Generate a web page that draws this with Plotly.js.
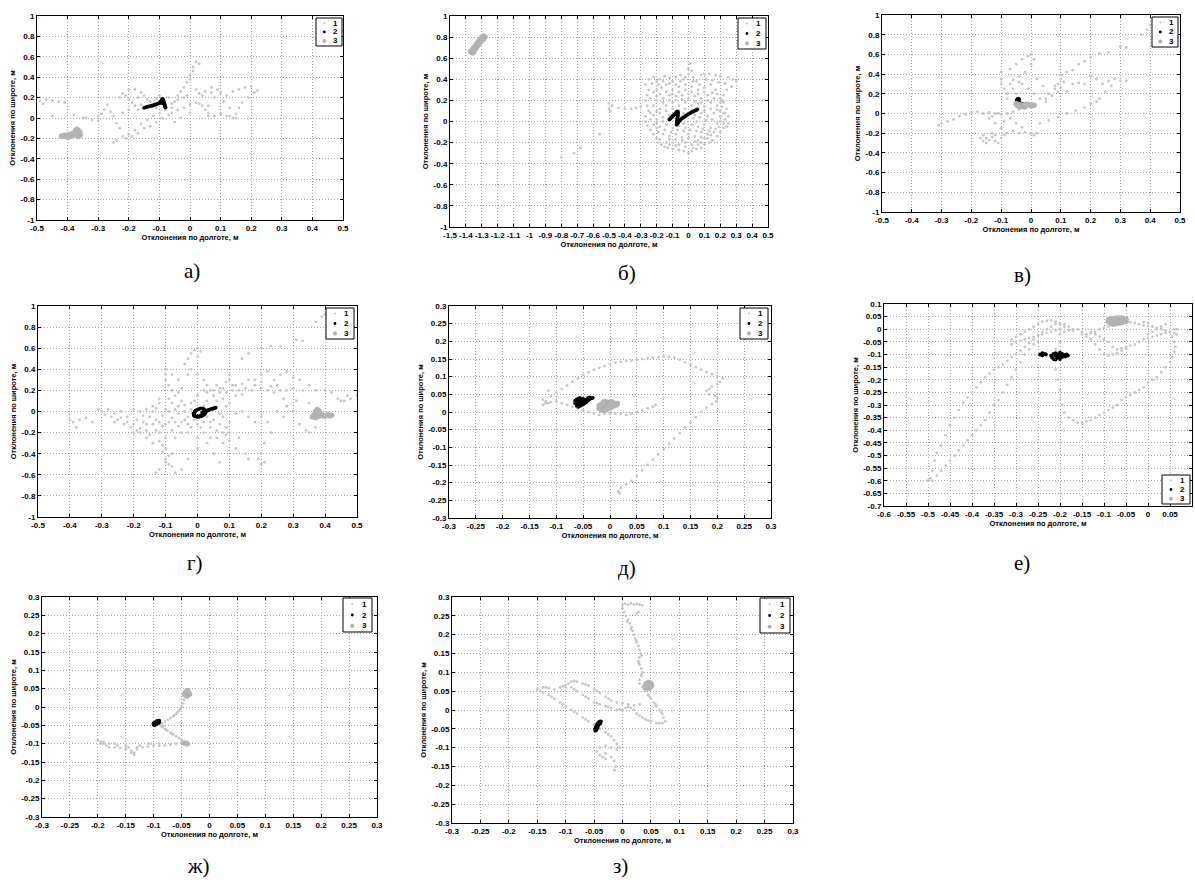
<!DOCTYPE html>
<html><head><meta charset="utf-8">
<script src="https://cdn.plot.ly/plotly-3.0.1.min.js"></script>
<style>html,body{margin:0;padding:0;background:#fff;}#chart{width:1195px;height:882px;}</style>
</head><body><div id="chart"></div>
<script>
// ---------- tick labels ----------
const TICK_05 = ['-0.5','-0.4','-0.3','-0.2','-0.1','0','0.1','0.2','0.3','0.4','0.5'];
const TICK_Y1 = ['-1','-0.8','-0.6','-0.4','-0.2','0','0.2','0.4','0.6','0.8','1'];
const TICK_15 = ['-1.5','-1.4','-1.3','-1.2','-1.1','-1','-0.9','-0.8','-0.7','-0.6','-0.5','-0.4','-0.3','-0.2','-0.1','0','0.1','0.2','0.3','0.4','0.5'];
const TICK_03 = ['-0.3','-0.25','-0.2','-0.15','-0.1','-0.05','0','0.05','0.1','0.15','0.2','0.25','0.3'];
const TICK_EX = ['-0.6','-0.55','-0.5','-0.45','-0.4','-0.35','-0.3','-0.25','-0.2','-0.15','-0.1','-0.05','0','0.05','0.1'];
const TICK_EY = ['-0.7','-0.65','-0.6','-0.55','-0.5','-0.45','-0.4','-0.35','-0.3','-0.25','-0.2','-0.15','-0.1','-0.05','0','0.05','0.1'];
const CAPTIONS = ['а)','б)','в)','г)','д)','е)','ж)','з)'];
const SERIES = ['1','2','3'];
const X_TITLE = 'Отклонения по долготе, м';
const Y_TITLE = 'Отклонения по широте, м';

// ---------- а ----------
const A1 = [[-0.49,0.17],[-0.47,0.18],[-0.45,0.17],[-0.43,0.16],[-0.41,0.15],[-0.48,0.14],[-0.45,0.02],[-0.38,0.03],[-0.34,0.0],[-0.32,-0.02],[-0.3,0.02],[-0.29,0.04],[-0.28,0.08],[-0.27,0.13],[-0.26,0.06],[-0.25,0.02],[-0.24,-0.05],[-0.23,-0.1],[-0.22,0.24],[-0.21,0.22],[-0.2,0.18],[-0.19,0.15],[-0.18,0.12],[-0.2,0.28],[-0.18,0.28],[-0.17,0.2],[-0.16,0.25],[-0.15,0.22],[-0.14,0.18],[-0.13,0.16],[-0.12,0.12],[-0.11,0.1],[-0.1,0.05],[-0.12,0.02],[-0.14,-0.02],[-0.16,-0.06],[-0.18,-0.12],[-0.2,-0.16],[-0.22,-0.18],[-0.24,-0.22],[-0.25,-0.24],[-0.21,-0.2],[-0.19,-0.18],[-0.17,-0.15],[-0.15,-0.1],[-0.13,-0.08],[-0.11,-0.04],[-0.09,0.0],[-0.07,0.03],[-0.06,0.1],[-0.05,0.16],[-0.04,0.22],[-0.03,0.26],[-0.02,0.3],[-0.01,0.35],[0.0,0.42],[0.01,0.5],[0.02,0.55],[0.03,0.53],[0.01,0.46],[0.0,0.38],[0.02,0.28],[0.03,0.24],[0.05,0.26],[0.07,0.3],[0.09,0.28],[0.1,0.25],[0.12,0.22],[0.14,0.26],[0.16,0.28],[0.18,0.3],[0.2,0.31],[0.22,0.27],[0.21,0.25],[0.19,0.2],[0.17,0.15],[0.16,0.1],[0.15,0.04],[0.14,0.0],[0.12,0.02],[0.1,0.04],[0.08,0.02],[0.06,0.05],[0.05,0.08],[0.04,0.12],[0.02,0.15],[0.0,0.13],[-0.02,0.1],[-0.04,0.08],[-0.06,0.05],[-0.08,0.12],[-0.09,0.18],[-0.1,0.22],[-0.11,0.19],[-0.06,0.14],[-0.02,0.2],[0.03,0.14],[0.06,0.12],[0.08,0.2],[0.11,0.16],[0.13,0.1],[0.06,0.02],[0.0,0.05],[-0.03,0.0],[-0.05,-0.04],[-0.08,0.08],[-0.35,0.0],[-0.3,-0.03],[-0.22,0.05],[-0.2,0.08],[-0.16,0.13],[-0.14,0.1],[-0.07,0.2],[-0.04,0.18],[-0.01,0.22],[0.04,0.22],[0.07,0.25],[0.15,0.0],[0.13,0.02],[-0.17,0.08],[-0.23,0.2]];
const A2 = [[-0.15,0.1],[-0.145,0.105],[-0.14,0.11],[-0.135,0.113],[-0.13,0.117],[-0.125,0.12],[-0.12,0.125],[-0.115,0.13],[-0.11,0.135],[-0.105,0.14],[-0.1,0.148],[-0.097,0.158],[-0.094,0.168],[-0.092,0.178],[-0.09,0.188],[-0.088,0.18],[-0.087,0.17],[-0.086,0.16],[-0.085,0.15],[-0.084,0.14],[-0.083,0.13],[-0.082,0.12],[-0.081,0.11],[-0.08,0.105],[-0.095,0.15],[-0.09,0.145]];
const A3 = [[-0.42,-0.18],[-0.415,-0.175],[-0.41,-0.17],[-0.405,-0.172],[-0.4,-0.17],[-0.395,-0.165],[-0.39,-0.16],[-0.385,-0.155],[-0.38,-0.15],[-0.375,-0.13],[-0.372,-0.12],[-0.37,-0.11],[-0.365,-0.12],[-0.36,-0.14],[-0.36,-0.16],[-0.36,-0.17],[-0.365,-0.18],[-0.37,-0.17],[-0.38,-0.17],[-0.39,-0.18],[-0.41,-0.18],[-0.4,-0.19],[-0.375,-0.16]];

// ---------- б ----------
const B1 = [[-0.25,0.4],[-0.22,0.42],[-0.2,0.38],[-0.18,0.4],[-0.15,0.43],[-0.12,0.41],[-0.1,0.38],[-0.08,0.42],[-0.05,0.44],[-0.03,0.4],[0.0,0.45],[0.0,0.5],[0.01,0.55],[0.02,0.48],[0.03,0.42],[0.05,0.38],[0.08,0.44],[0.1,0.45],[0.13,0.45],[0.17,0.44],[0.2,0.43],[0.25,0.42],[0.28,0.4],[0.3,0.38],[0.27,0.33],[0.24,0.3],[0.22,0.25],[0.2,0.22],[0.22,0.18],[0.24,0.12],[0.22,0.08],[0.2,0.05],[0.23,0.02],[0.25,-0.02],[0.22,-0.06],[0.2,-0.1],[0.18,-0.14],[0.15,-0.18],[0.13,-0.2],[0.1,-0.22],[0.08,-0.25],[0.05,-0.26],[0.02,-0.28],[0.0,-0.3],[-0.03,-0.28],[-0.06,-0.27],[-0.1,-0.26],[-0.13,-0.25],[-0.15,-0.24],[-0.17,-0.22],[-0.19,-0.2],[-0.2,-0.16],[-0.22,-0.12],[-0.24,-0.08],[-0.26,-0.04],[-0.27,0.0],[-0.27,0.05],[-0.25,0.1],[-0.26,0.15],[-0.27,0.2],[-0.26,0.25],[-0.25,0.3],[-0.27,0.35],[-0.2,0.3],[-0.17,0.32],[-0.14,0.35],[-0.1,0.3],[-0.06,0.33],[-0.02,0.35],[0.02,0.33],[0.06,0.3],[0.1,0.32],[0.14,0.35],[0.17,0.3],[0.12,0.25],[0.08,0.22],[0.04,0.24],[0.0,0.26],[-0.04,0.25],[-0.08,0.24],[-0.12,0.25],[-0.16,0.22],[-0.2,0.2],[-0.22,0.15],[-0.18,0.12],[-0.14,0.15],[-0.1,0.18],[-0.06,0.15],[-0.02,0.18],[0.02,0.15],[0.06,0.17],[0.1,0.14],[0.14,0.18],[0.18,0.15],[0.16,0.08],[0.12,0.05],[0.08,0.08],[0.04,0.06],[0.0,0.08],[-0.04,0.05],[-0.08,0.08],[-0.12,0.06],[-0.16,0.04],[-0.2,0.02],[-0.22,-0.03],[-0.18,-0.05],[-0.14,-0.03],[-0.1,-0.06],[-0.06,-0.04],[-0.02,-0.06],[0.02,-0.03],[0.06,-0.05],[0.1,-0.03],[0.14,-0.06],[0.18,-0.02],[0.16,-0.1],[0.12,-0.12],[0.08,-0.1],[0.04,-0.14],[0.0,-0.12],[-0.04,-0.15],[-0.08,-0.12],[-0.12,-0.14],[-0.16,-0.12],[-0.14,-0.2],[-0.1,-0.2],[-0.06,-0.22],[-0.02,-0.2],[0.02,-0.22],[0.06,-0.18],[0.1,-0.16],[-0.24,0.08],[-0.2,0.1],[0.2,0.1],[0.21,0.2],[0.19,-0.05],[-0.05,0.02],[-0.03,-0.02],[0.05,0.0],[0.08,-0.15],[-0.23,0.36],[-0.19,0.35],[-0.16,0.38],[-0.12,0.36],[-0.08,0.35],[-0.05,0.38],[-0.02,0.42],[0.03,0.38],[0.07,0.35],[0.11,0.4],[0.15,0.39],[0.19,0.37],[0.23,0.36],[0.18,0.26],[0.15,0.27],[0.1,0.28],[0.06,0.26],[0.02,0.28],[-0.02,0.3],[-0.06,0.28],[-0.1,0.26],[-0.14,0.28],[-0.18,0.26],[-0.22,0.28],[-0.24,0.22],[-0.2,0.24],[-0.16,0.18],[-0.12,0.2],[-0.08,0.2],[-0.04,0.21],[0.0,0.22],[0.04,0.19],[0.08,0.18],[0.12,0.2],[0.16,0.22],[0.2,0.18],[0.18,0.11],[0.14,0.12],[0.1,0.1],[0.06,0.12],[0.02,0.1],[-0.02,0.12],[-0.06,0.1],[-0.1,0.12],[-0.14,0.1],[-0.18,0.08],[-0.22,0.06],[-0.24,0.02],[-0.2,-0.01],[-0.16,0.0],[-0.12,0.02],[-0.08,0.03],[-0.03,0.08],[0.03,0.03],[0.07,0.04],[0.11,0.01],[0.15,0.02],[0.2,0.0],[0.22,-0.02],[0.17,-0.07],[0.13,-0.09],[0.09,-0.07],[0.05,-0.09],[0.01,-0.08],[-0.03,-0.09],[-0.07,-0.08],[-0.11,-0.1],[-0.15,-0.08],[-0.19,-0.1],[-0.2,-0.06],[-0.18,-0.17],[-0.12,-0.17],[-0.08,-0.17],[-0.04,-0.18],[0.0,-0.16],[0.04,-0.19],[0.08,-0.2],[0.12,-0.16],[0.14,-0.13],[-0.02,-0.24],[0.03,-0.25],[-0.08,-0.23],[-0.12,-0.22],[0.06,-0.22],[0.23,0.08],[0.25,0.05],[0.24,-0.05],[0.21,0.14],[-0.3,0.14],[-0.33,0.13],[-0.36,0.12],[-0.4,0.12],[-0.44,0.13],[-0.48,0.15],[-0.5,0.17],[-0.5,0.12],[-0.49,0.1],[-0.56,-0.12],[-0.68,-0.25],[-0.72,-0.3],[-0.8,-0.34]];
const B2 = [[-0.12,0.02],[-0.115,0.027],[-0.11,0.035],[-0.105,0.042],[-0.1,0.05],[-0.095,0.057],[-0.09,0.065],[-0.085,0.072],[-0.08,0.08],[-0.075,0.088],[-0.07,0.095],[-0.066,0.088],[-0.066,0.075],[-0.067,0.06],[-0.068,0.045],[-0.07,0.03],[-0.071,0.015],[-0.072,0.0],[-0.074,-0.015],[-0.075,-0.03],[-0.07,-0.02],[-0.065,-0.01],[-0.06,0.0],[-0.055,0.01],[-0.05,0.02],[-0.04,0.03],[-0.03,0.04],[-0.02,0.05],[-0.01,0.06],[0.0,0.07],[0.01,0.08],[0.02,0.088],[0.03,0.095],[0.04,0.103],[0.05,0.11],[0.055,0.115]];
const B3 = [[-1.37,0.66],[-1.36,0.68],[-1.35,0.7],[-1.34,0.72],[-1.33,0.74],[-1.32,0.76],[-1.31,0.78],[-1.3,0.8],[-1.29,0.81],[-1.28,0.8],[-1.36,0.65],[-1.35,0.66],[-1.34,0.69],[-1.33,0.71],[-1.32,0.73],[-1.31,0.75],[-1.3,0.77],[-1.29,0.78]];

// ---------- в ----------
const V1 = [[-0.31,-0.12],[-0.3,-0.1],[-0.28,-0.08],[-0.26,-0.06],[-0.24,-0.03],[-0.22,-0.01],[-0.2,0.01],[-0.18,0.02],[-0.16,0.0],[-0.14,0.01],[-0.12,0.0],[-0.1,-0.01],[-0.08,0.0],[-0.06,0.02],[-0.04,0.04],[-0.02,0.06],[-0.17,-0.25],[-0.16,-0.28],[-0.15,-0.3],[-0.14,-0.27],[-0.13,-0.24],[-0.12,-0.28],[-0.11,-0.3],[-0.1,-0.25],[-0.09,-0.22],[-0.08,-0.2],[-0.06,-0.18],[-0.04,-0.2],[-0.02,-0.19],[0.0,-0.2],[0.01,-0.22],[0.02,-0.2],[-0.16,-0.22],[-0.13,-0.2],[-0.1,-0.15],[-0.12,-0.1],[-0.14,-0.05],[-0.09,-0.08],[-0.07,-0.05],[-0.05,-0.1],[-0.03,-0.14],[-0.1,0.42],[-0.1,0.35],[-0.1,0.3],[-0.09,0.25],[-0.08,0.2],[-0.07,0.45],[-0.05,0.5],[-0.03,0.55],[-0.01,0.58],[0.0,0.6],[0.01,0.55],[0.0,0.5],[-0.02,0.42],[-0.04,0.38],[-0.06,0.34],[-0.03,0.3],[-0.01,0.25],[0.01,0.2],[0.03,0.15],[0.05,0.12],[0.02,0.35],[-0.06,0.25],[-0.08,0.15],[0.04,0.28],[0.06,0.2],[0.08,0.25],[0.09,0.3],[0.1,0.35],[0.11,0.32],[0.1,0.26],[0.12,0.22],[0.14,0.3],[0.16,0.31],[0.18,0.3],[0.2,0.38],[0.22,0.35],[0.24,0.3],[0.26,0.33],[0.28,0.35],[0.3,0.33],[0.32,0.33],[0.27,0.28],[0.25,0.22],[0.23,0.15],[0.22,0.12],[0.2,0.1],[0.18,0.06],[0.15,0.03],[0.12,0.0],[0.09,-0.04],[0.06,-0.07],[0.03,-0.1],[0.14,0.44],[0.16,0.5],[0.18,0.53],[0.2,0.57],[0.23,0.61],[0.26,0.62],[0.3,0.68],[0.32,0.67],[0.37,0.8],[0.39,0.85],[0.4,0.9],[0.41,0.88],[0.1,0.39],[0.12,0.42],[0.07,0.18],[0.05,0.15],[-0.07,0.3],[-0.04,0.32],[-0.05,0.2],[-0.11,0.0],[-0.13,-0.03],[-0.15,-0.25],[-0.12,-0.22],[0.08,0.28],[0.09,0.22]];
const V2 = [[-0.046,0.12],[-0.047,0.13],[-0.047,0.14],[-0.045,0.148],[-0.042,0.15],[-0.04,0.145],[-0.042,0.135],[-0.043,0.127],[-0.042,0.118],[-0.04,0.11],[-0.037,0.104],[-0.033,0.1],[-0.03,0.1]];
const V3 = [[-0.05,0.1],[-0.045,0.08],[-0.04,0.07],[-0.03,0.07],[-0.02,0.08],[-0.01,0.09],[0.0,0.09],[0.01,0.085],[0.0,0.075],[-0.02,0.065],[-0.035,0.09],[-0.015,0.095],[0.005,0.08],[-0.025,0.085],[-0.045,0.095]];

// ---------- г ----------
const G1 = [[-0.4,-0.08],[-0.39,-0.1],[-0.38,-0.15],[-0.37,-0.08],[-0.35,-0.06],[-0.33,-0.1],[-0.31,0.02],[-0.3,0.0],[-0.29,-0.03],[-0.28,0.02],[-0.27,-0.05],[-0.26,-0.02],[-0.25,-0.08],[-0.24,0.0],[-0.23,-0.12],[-0.22,-0.05],[-0.21,-0.15],[-0.2,0.02],[-0.19,-0.18],[-0.18,-0.2],[-0.17,-0.1],[-0.16,-0.25],[-0.15,-0.22],[-0.14,-0.3],[-0.13,-0.18],[-0.12,-0.28],[-0.11,-0.32],[-0.1,-0.45],[-0.09,-0.5],[-0.1,-0.48],[-0.08,-0.4],[-0.13,-0.58],[-0.12,-0.55],[-0.07,-0.58],[-0.05,-0.55],[-0.08,-0.52],[-0.2,-0.2],[-0.18,-0.16],[-0.16,-0.12],[-0.15,-0.05],[-0.14,0.0],[-0.13,-0.08],[-0.12,-0.1],[-0.11,-0.04],[-0.1,-0.12],[-0.09,0.0],[-0.08,-0.06],[-0.07,0.02],[-0.06,-0.02],[-0.05,-0.1],[-0.04,0.0],[-0.03,-0.05],[-0.02,0.02],[-0.01,-0.08],[0.0,-0.12],[0.01,-0.02],[0.02,-0.1],[0.03,-0.05],[0.04,-0.15],[0.05,-0.08],[0.06,-0.18],[0.07,-0.12],[0.08,-0.2],[0.09,-0.15],[0.1,-0.2],[-0.1,0.4],[-0.1,0.35],[-0.1,0.3],[-0.09,0.25],[-0.08,0.2],[-0.07,0.15],[-0.06,0.18],[-0.05,0.22],[-0.04,0.45],[-0.03,0.5],[-0.02,0.55],[-0.01,0.58],[0.0,0.6],[0.01,0.57],[0.0,0.52],[-0.02,0.4],[0.0,0.35],[0.02,0.3],[0.03,0.25],[0.04,0.2],[0.05,0.15],[0.06,0.1],[0.07,0.18],[0.08,0.22],[0.09,0.28],[0.1,0.35],[0.1,0.3],[0.11,0.2],[0.12,0.25],[0.13,0.2],[0.15,0.22],[0.16,0.3],[0.18,0.3],[0.2,0.35],[0.22,0.38],[0.24,0.3],[0.25,0.25],[0.26,0.35],[0.28,0.38],[0.3,0.32],[0.32,0.3],[0.2,0.22],[0.22,0.2],[0.24,0.18],[0.26,0.2],[0.28,0.2],[0.3,0.22],[0.33,0.2],[0.35,0.25],[0.37,0.2],[0.4,0.2],[0.42,0.18],[0.44,0.12],[0.46,0.1],[0.48,0.12],[0.5,0.15],[0.47,0.15],[0.45,0.1],[0.14,0.5],[0.16,0.55],[0.2,0.6],[0.23,0.62],[0.26,0.62],[0.31,0.68],[0.33,0.67],[0.37,0.85],[0.39,0.9],[0.4,0.92],[0.12,-0.02],[0.14,0.0],[0.16,-0.05],[0.18,-0.1],[0.2,-0.05],[0.22,-0.1],[0.23,-0.2],[0.21,-0.3],[0.2,-0.4],[0.19,-0.45],[0.2,-0.5],[0.21,-0.48],[0.15,-0.4],[0.16,-0.45],[0.12,-0.35],[0.25,0.0],[0.27,-0.05],[0.28,0.05],[0.3,0.0],[0.32,-0.12],[0.34,-0.18],[0.35,-0.2],[0.37,-0.15],[0.31,0.1],[0.35,0.08],[0.27,0.12],[-0.05,0.1],[0.03,0.1],[0.05,0.02],[0.07,-0.02],[0.09,0.05],[-0.08,0.08],[-0.12,0.12],[0.02,0.05],[0.1,0.08],[0.08,0.12],[-0.03,-0.2],[0.0,-0.25],[0.03,-0.3],[0.05,-0.4],[0.07,-0.48],[0.0,-0.35],[-0.03,-0.45],[-0.19,-0.08],[-0.17,-0.04],[-0.16,0.02],[-0.14,-0.12],[-0.13,0.03],[-0.12,-0.2],[-0.11,-0.14],[-0.1,0.02],[-0.1,-0.25],[-0.09,-0.1],[-0.08,-0.18],[-0.07,-0.1],[-0.07,-0.25],[-0.06,0.05],[-0.06,-0.14],[-0.05,-0.2],[-0.04,-0.08],[-0.04,0.06],[-0.03,-0.12],[-0.02,-0.15],[-0.02,0.08],[-0.01,0.1],[0.0,0.15],[0.01,-0.15],[0.02,-0.2],[0.03,0.18],[0.04,-0.1],[0.05,0.2],[0.06,-0.25],[0.07,0.22],[0.08,-0.05],[0.09,0.18],[0.1,-0.1],[0.11,0.25],[0.12,0.15],[-0.22,-0.1],[-0.24,-0.06],[-0.26,-0.1],[-0.18,0.0],[-0.2,-0.12],[-0.16,-0.18],[-0.14,0.05],[-0.12,0.08],[-0.09,0.12],[-0.06,0.3],[-0.08,0.35],[-0.03,0.35],[0.02,0.2],[0.06,0.25],[0.14,0.26],[0.18,0.25],[0.2,0.28],[0.23,0.24],[0.17,0.2],[0.14,0.16],[-0.1,-0.35],[-0.09,-0.42],[-0.11,-0.38],[0.04,-0.25],[0.08,-0.3],[0.1,-0.28],[0.13,-0.25],[0.09,-0.22]];
const G2 = [[-0.012,-0.03],[-0.012,-0.02],[-0.01,-0.01],[-0.008,0.0],[-0.005,0.01],[0.0,0.018],[0.005,0.025],[0.01,0.03],[0.015,0.028],[0.02,0.022],[0.024,0.012],[0.026,0.0],[0.025,-0.012],[0.022,-0.025],[0.018,-0.035],[0.012,-0.045],[0.005,-0.05],[-0.002,-0.05],[-0.008,-0.045],[-0.011,-0.038],[0.015,-0.01],[0.02,-0.005],[0.028,0.005],[0.033,0.012],[0.038,0.018],[0.043,0.024],[0.048,0.028],[0.053,0.033],[0.057,0.036],[0.0,-0.045],[0.01,-0.04]];
const G3 = [[0.36,-0.05],[0.365,-0.03],[0.37,0.0],[0.375,0.02],[0.38,0.01],[0.385,-0.02],[0.39,-0.03],[0.4,-0.035],[0.41,-0.03],[0.42,-0.035],[0.4,-0.045],[0.38,-0.045],[0.37,-0.06],[0.375,-0.01],[0.395,-0.04],[0.415,-0.04]];

// ---------- д ----------
const D1 = [[-0.12,0.03],[-0.11,0.045],[-0.1,0.055],[-0.09,0.065],[-0.08,0.075],[-0.07,0.085],[-0.06,0.095],[-0.05,0.105],[-0.04,0.112],[-0.03,0.12],[-0.02,0.125],[-0.01,0.13],[0.0,0.135],[0.01,0.14],[0.02,0.142],[0.03,0.145],[0.04,0.145],[0.05,0.148],[0.06,0.15],[0.07,0.152],[0.08,0.154],[0.09,0.155],[0.1,0.157],[0.11,0.156],[0.12,0.153],[0.13,0.148],[0.14,0.14],[0.15,0.133],[0.16,0.127],[0.17,0.12],[0.18,0.113],[0.19,0.107],[0.2,0.1],[0.21,0.095],[0.205,0.085],[0.2,0.078],[0.19,0.072],[0.185,0.065],[0.18,0.06],[0.185,0.05],[0.195,0.045],[0.2,0.04],[0.198,0.03],[0.19,0.022],[0.18,0.012],[0.17,0.0],[0.16,-0.015],[0.15,-0.03],[0.14,-0.045],[0.13,-0.06],[0.12,-0.075],[0.11,-0.09],[0.1,-0.105],[0.09,-0.12],[0.08,-0.135],[0.07,-0.15],[0.06,-0.165],[0.05,-0.18],[0.04,-0.195],[0.03,-0.205],[0.02,-0.215],[0.018,-0.23],[0.015,-0.225],[-0.12,0.025],[-0.11,0.028],[-0.1,0.03],[-0.09,0.025],[-0.08,0.02],[-0.07,0.015],[-0.06,0.01],[-0.05,0.005],[-0.04,0.0],[-0.03,-0.005],[-0.02,-0.008],[-0.01,-0.005],[0.0,-0.003],[0.01,-0.005],[0.02,-0.005],[0.03,-0.008],[0.04,-0.005],[0.05,0.0],[0.06,0.005],[0.07,0.01],[0.08,0.015],[0.085,0.02],[-0.125,0.02],[-0.125,0.035],[-0.115,0.025],[-0.115,0.06]];
const D2 = [[-0.065,0.025],[-0.065,0.032],[-0.062,0.018],[-0.062,0.028],[-0.062,0.036],[-0.059,0.015],[-0.059,0.022],[-0.059,0.03],[-0.059,0.038],[-0.056,0.017],[-0.056,0.025],[-0.056,0.033],[-0.056,0.04],[-0.053,0.02],[-0.053,0.028],[-0.053,0.036],[-0.05,0.022],[-0.05,0.03],[-0.05,0.037],[-0.047,0.025],[-0.047,0.033],[-0.044,0.028],[-0.044,0.036],[-0.041,0.032],[-0.041,0.039],[-0.038,0.036],[-0.038,0.041],[-0.035,0.039],[-0.032,0.04]];
const D3 = [[-0.02,0.01],[-0.02,0.018],[-0.016,0.006],[-0.016,0.014],[-0.016,0.022],[-0.012,0.004],[-0.012,0.012],[-0.012,0.02],[-0.012,0.028],[-0.008,0.006],[-0.008,0.014],[-0.008,0.022],[-0.008,0.03],[-0.004,0.01],[-0.004,0.018],[-0.004,0.026],[0.0,0.012],[0.0,0.02],[0.0,0.028],[0.004,0.014],[0.004,0.022],[0.004,0.028],[0.008,0.018],[0.008,0.025],[0.012,0.02],[0.014,0.024]];

// ---------- е ----------
const E1 = [[-0.5,-0.6],[-0.495,-0.59],[-0.49,-0.56],[-0.485,-0.52],[-0.48,-0.49],[-0.47,-0.46],[-0.46,-0.42],[-0.45,-0.38],[-0.44,-0.35],[-0.43,-0.32],[-0.42,-0.29],[-0.41,-0.27],[-0.4,-0.25],[-0.39,-0.23],[-0.38,-0.21],[-0.37,-0.19],[-0.36,-0.175],[-0.35,-0.16],[-0.34,-0.15],[-0.33,-0.14],[-0.32,-0.125],[-0.31,-0.11],[-0.3,-0.1],[-0.29,-0.085],[-0.28,-0.07],[-0.27,-0.055],[-0.26,-0.04],[-0.25,-0.025],[-0.24,-0.01],[-0.23,0.0],[-0.22,0.01],[-0.21,0.02],[-0.2,0.025],[-0.19,0.02],[-0.18,0.01],[-0.17,0.0],[-0.49,-0.6],[-0.48,-0.58],[-0.47,-0.56],[-0.46,-0.54],[-0.45,-0.52],[-0.44,-0.5],[-0.43,-0.48],[-0.42,-0.46],[-0.41,-0.44],[-0.4,-0.42],[-0.39,-0.4],[-0.38,-0.38],[-0.37,-0.36],[-0.36,-0.33],[-0.35,-0.3],[-0.34,-0.28],[-0.33,-0.25],[-0.32,-0.22],[-0.31,-0.19],[-0.3,-0.16],[-0.29,-0.13],[-0.28,-0.1],[-0.27,-0.08],[-0.26,-0.06],[-0.25,-0.05],[-0.31,-0.06],[-0.3,-0.05],[-0.29,-0.045],[-0.28,-0.04],[-0.27,-0.035],[-0.26,-0.03],[-0.25,-0.025],[-0.24,-0.02],[-0.23,-0.015],[-0.22,-0.01],[-0.21,-0.005],[-0.2,0.0],[-0.31,-0.04],[-0.3,-0.03],[-0.29,-0.02],[-0.28,-0.01],[-0.27,0.0],[-0.26,0.01],[-0.25,0.02],[-0.24,0.03],[-0.23,0.033],[-0.22,0.035],[-0.21,0.03],[-0.2,0.02],[-0.19,0.01],[-0.19,-0.01],[-0.18,-0.005],[-0.17,-0.005],[-0.16,0.0],[-0.15,-0.01],[-0.14,-0.02],[-0.13,-0.015],[-0.12,-0.01],[-0.11,0.0],[-0.1,0.005],[-0.09,0.01],[-0.08,0.02],[-0.07,0.025],[-0.06,0.028],[-0.05,0.03],[-0.04,0.028],[-0.03,0.025],[-0.02,0.02],[-0.01,0.015],[0.0,0.012],[0.01,0.01],[0.02,0.005],[0.03,0.0],[0.04,-0.005],[0.05,-0.01],[0.06,-0.015],[0.065,-0.02],[0.06,0.0],[0.065,0.0],[-0.2,-0.02],[-0.2,-0.05],[-0.21,-0.08],[-0.215,-0.12],[-0.21,-0.16],[-0.205,-0.2],[-0.2,-0.24],[-0.2,-0.28],[-0.195,-0.3],[-0.19,-0.33],[-0.18,-0.35],[-0.17,-0.36],[-0.16,-0.37],[-0.15,-0.37],[-0.14,-0.365],[-0.13,-0.36],[-0.12,-0.35],[-0.11,-0.34],[-0.1,-0.33],[-0.09,-0.32],[-0.08,-0.31],[-0.07,-0.3],[-0.06,-0.28],[-0.05,-0.27],[-0.04,-0.26],[-0.03,-0.25],[-0.02,-0.24],[-0.01,-0.23],[0.0,-0.21],[0.01,-0.2],[0.02,-0.19],[0.03,-0.17],[0.04,-0.15],[0.05,-0.13],[0.055,-0.11],[0.06,-0.09],[0.062,-0.07],[0.06,-0.05],[0.055,-0.03],[-0.13,-0.01],[-0.12,-0.02],[-0.11,-0.03],[-0.1,-0.04],[-0.09,-0.05],[-0.08,-0.07],[-0.07,-0.08],[-0.06,-0.075],[-0.05,-0.07],[-0.04,-0.065],[-0.03,-0.06],[-0.02,-0.05],[-0.01,-0.04],[0.0,-0.035],[0.01,-0.03],[0.02,-0.025],[0.03,-0.02],[0.04,-0.015],[-0.15,-0.02],[-0.14,-0.03],[-0.13,-0.04],[-0.12,-0.06],[-0.11,-0.08],[-0.1,-0.1],[-0.09,-0.105],[-0.08,-0.1],[-0.07,-0.095],[-0.06,-0.085],[-0.05,-0.075],[0.0,-0.02],[0.01,-0.01],[0.02,0.0],[0.03,0.01],[0.04,0.02],[0.0,0.025],[-0.01,0.028]];
const E2 = [[-0.245,-0.1],[-0.24,-0.095],[-0.24,-0.103],[-0.235,-0.098],[-0.232,-0.1],[-0.22,-0.105],[-0.218,-0.112],[-0.215,-0.098],[-0.214,-0.118],[-0.21,-0.105],[-0.21,-0.095],[-0.21,-0.12],[-0.205,-0.1],[-0.205,-0.112],[-0.2,-0.092],[-0.2,-0.105],[-0.2,-0.118],[-0.195,-0.098],[-0.195,-0.11],[-0.19,-0.102],[-0.188,-0.108],[-0.185,-0.1],[-0.182,-0.104]];
const E3 = [[-0.09,0.03],[-0.09,0.038],[-0.085,0.024],[-0.085,0.033],[-0.085,0.042],[-0.08,0.02],[-0.08,0.03],[-0.08,0.04],[-0.075,0.022],[-0.075,0.032],[-0.075,0.043],[-0.07,0.025],[-0.07,0.035],[-0.07,0.045],[-0.065,0.025],[-0.065,0.035],[-0.065,0.044],[-0.06,0.027],[-0.06,0.037],[-0.06,0.045],[-0.055,0.03],[-0.055,0.04],[-0.05,0.032],[-0.05,0.04]];

// ---------- ж ----------
const ZH1 = [[-0.2,-0.09],[-0.195,-0.095],[-0.19,-0.1],[-0.185,-0.105],[-0.18,-0.11],[-0.17,-0.11],[-0.16,-0.112],[-0.15,-0.115],[-0.14,-0.12],[-0.135,-0.125],[-0.13,-0.115],[-0.12,-0.11],[-0.11,-0.108],[-0.1,-0.105],[-0.09,-0.106],[-0.08,-0.105],[-0.07,-0.103],[-0.06,-0.1],[-0.05,-0.098],[-0.045,-0.096],[-0.04,-0.095],[-0.045,-0.1],[-0.05,-0.09],[-0.055,-0.085],[-0.06,-0.08],[-0.065,-0.075],[-0.07,-0.07],[-0.075,-0.065],[-0.08,-0.06],[-0.085,-0.055],[-0.088,-0.05],[-0.085,-0.045],[-0.08,-0.04],[-0.075,-0.035],[-0.07,-0.03],[-0.065,-0.025],[-0.06,-0.02],[-0.058,-0.015],[-0.055,-0.01],[-0.052,-0.005],[-0.05,0.0],[-0.048,0.01],[-0.046,0.02],[-0.045,0.03],[-0.19,-0.095],[-0.17,-0.1],[-0.15,-0.105],[-0.13,-0.11],[-0.11,-0.1],[-0.09,-0.1],[-0.195,-0.1],[-0.18,-0.1],[-0.165,-0.105],[-0.145,-0.11],[-0.125,-0.105],[-0.105,-0.1],[-0.135,-0.13],[-0.14,-0.125],[-0.082,-0.052],[-0.078,-0.062],[-0.068,-0.072],[-0.063,-0.022],[-0.053,-0.008]];
const ZH2 = [[-0.1,-0.048],[-0.1,-0.044],[-0.098,-0.05],[-0.098,-0.045],[-0.097,-0.041],[-0.095,-0.047],[-0.095,-0.042],[-0.094,-0.038],[-0.092,-0.044],[-0.092,-0.039],[-0.09,-0.041],[-0.09,-0.037]];
const ZH3 = [[-0.045,0.035],[-0.043,0.04],[-0.04,0.045],[-0.038,0.04],[-0.036,0.035],[-0.04,0.03],[-0.042,0.032],[-0.045,-0.098],[-0.04,-0.1]];

// ---------- з ----------
const Z1 = [[0.0,0.28],[0.005,0.282],[0.01,0.28],[0.015,0.283],[0.02,0.28],[0.025,0.282],[0.03,0.28],[0.035,0.278],[0.0,0.27],[0.003,0.26],[0.006,0.25],[0.01,0.24],[0.013,0.23],[0.016,0.22],[0.018,0.21],[0.02,0.2],[0.022,0.19],[0.025,0.18],[0.028,0.17],[0.03,0.16],[0.032,0.15],[0.03,0.14],[0.028,0.13],[0.03,0.12],[0.033,0.11],[0.035,0.1],[0.033,0.09],[0.03,0.08],[0.03,0.07],[0.035,0.06],[0.04,0.05],[0.045,0.04],[0.05,0.03],[0.055,0.02],[0.06,0.01],[0.065,0.0],[0.07,-0.01],[0.072,-0.02],[0.075,-0.03],[0.07,-0.035],[0.06,-0.035],[0.05,-0.03],[0.04,-0.025],[0.035,-0.02],[0.03,-0.015],[0.025,-0.01],[0.02,0.0],[0.015,0.005],[0.01,0.008],[0.005,0.005],[0.0,0.0],[-0.01,0.0],[-0.02,0.005],[-0.03,0.01],[-0.04,0.015],[-0.05,0.02],[-0.06,0.03],[-0.07,0.04],[-0.08,0.05],[-0.09,0.06],[-0.1,0.065],[-0.11,0.06],[-0.12,0.055],[-0.13,0.058],[-0.14,0.06],[-0.15,0.055],[-0.145,0.05],[-0.14,0.045],[-0.13,0.04],[-0.12,0.03],[-0.11,0.02],[-0.1,0.01],[-0.09,0.0],[-0.08,-0.01],[-0.07,-0.02],[-0.06,-0.03],[-0.05,-0.04],[-0.04,-0.05],[-0.03,-0.06],[-0.02,-0.07],[-0.015,-0.08],[-0.01,-0.09],[-0.005,-0.1],[-0.01,-0.105],[-0.02,-0.1],[-0.03,-0.095],[-0.04,-0.1],[-0.045,-0.11],[-0.04,-0.12],[-0.03,-0.115],[-0.035,-0.125],[-0.03,-0.13],[-0.02,-0.125],[-0.015,-0.135],[-0.012,-0.15],[-0.014,-0.16],[-0.1,0.06],[-0.095,0.07],[-0.09,0.075],[-0.08,0.075],[-0.07,0.07],[-0.06,0.065],[-0.05,0.055],[-0.04,0.045],[-0.03,0.035],[-0.02,0.025],[-0.01,0.02],[0.0,0.018],[0.01,0.015],[0.02,0.012],[0.03,0.015],[0.01,0.01],[0.025,0.255],[0.028,0.26],[0.008,0.235],[0.015,0.215],[0.024,0.185],[0.034,0.145],[0.029,0.125],[0.034,0.095],[0.038,0.055],[0.048,0.035],[0.058,0.015],[0.068,-0.005],[0.065,-0.035],[0.045,-0.028],[-0.005,0.002],[-0.025,0.008],[-0.045,0.018],[-0.065,0.035],[-0.085,0.055],[-0.105,0.063],[-0.135,0.06],[-0.125,0.035],[-0.105,0.015],[-0.085,-0.005],[-0.065,-0.025],[-0.045,-0.045],[-0.025,-0.065],[-0.085,0.077],[-0.065,0.068],[-0.045,0.05],[-0.025,0.03]];
const Z2 = [[-0.048,-0.055],[-0.048,-0.05],[-0.047,-0.047],[-0.046,-0.053],[-0.046,-0.043],[-0.045,-0.04],[-0.044,-0.048],[-0.044,-0.036],[-0.043,-0.042],[-0.042,-0.033],[-0.041,-0.038],[-0.04,-0.031],[-0.039,-0.035],[-0.038,-0.03]];
const Z3 = [[0.04,0.065],[0.041,0.06],[0.042,0.07],[0.044,0.063],[0.045,0.073],[0.046,0.058],[0.047,0.068],[0.049,0.072],[0.05,0.062],[0.051,0.067],[0.048,0.06]];

// ---------- layout config (pixel boxes) ----------
const W = 1195, H = 882;
const PANELS = [
  {s:[A1,A2,A3],  box:[37,343,16,220],  xt:TICK_05, yt:TICK_Y1, leg:[316,342,18,46],   cap:[192,271]},
  {s:[B1,B2,B3],  box:[450,768,16,227], xt:TICK_15, yt:TICK_Y1, leg:[738,766,18,49],   cap:[627,273]},
  {s:[V1,V2,V3],  box:[882,1180,15,212],xt:TICK_05, yt:TICK_Y1, leg:[1152,1178,17,47], cap:[1022,275]},
  {s:[G1,G2,G3],  box:[38,357,306,517], xt:TICK_05, yt:TICK_Y1, leg:[326,354,308,339], cap:[195,563]},
  {s:[D1,D2,D3],  box:[449,771,306,518],xt:TICK_03, yt:TICK_03, leg:[740,768,308,339], cap:[627,568]},
  {s:[E1,E2,E3],  box:[884,1192,304,506],xt:TICK_EX, yt:TICK_EY, leg:[1162,1190,475,504],cap:[1022,563]},
  {s:[ZH1,ZH2,ZH3],box:[42,377,597,817],xt:TICK_03, yt:TICK_03, leg:[343,372,598,632], cap:[198,866]},
  {s:[Z1,Z2,Z3],  box:[452,793,597,823],xt:TICK_03, yt:TICK_03, leg:[760,790,598,633], cap:[620,866]}
];
const STYLE = [
  {color:'#c6c6c6', size:2.8},
  {color:'#000000', size:3.8},
  {color:'#b3b3b3', size:5.5}
];
const TICKFONT = {family:'Liberation Sans, Arial, sans-serif', size:8, color:'#000', weight:700};
const TITLEFONT = {family:'Liberation Sans, Arial, sans-serif', size:7.5, color:'#000', weight:700};

const traces = [], layout = {
  width:W, height:H, margin:{l:0,r:0,t:0,b:0}, showlegend:false,
  paper_bgcolor:'#fff', plot_bgcolor:'#fff', shapes:[], annotations:[]
};
const px = v => v / W, py = v => 1 - v / H;

PANELS.forEach((p, i) => {
  const n = i === 0 ? '' : String(i + 1);
  p.s.forEach((arr, k) => {
    traces.push({
      type:'scatter', mode:'markers', name:SERIES[k],
      x:arr.map(d => d[0]), y:arr.map(d => d[1]),
      xaxis:'x' + n, yaxis:'y' + n,
      marker:{color:STYLE[k].color, size:STYLE[k].size, line:{width:0}},
      hoverinfo:'skip'
    });
  });
  const xv = p.xt.map(Number), yv = p.yt.map(Number);
  const common = {
    showline:true, linecolor:'#000', linewidth:1, mirror:'ticks',
    ticks:'inside', ticklen:3, tickcolor:'#000', tickwidth:1,
    showgrid:true, gridcolor:'#a8a8a8', griddash:'1px,2px', gridwidth:1,
    zeroline:false, tickfont:TICKFONT, tickangle:0, fixedrange:true, automargin:false
  };
  layout['xaxis' + n] = Object.assign({}, common, {
    domain:[px(p.box[0]), px(p.box[1])], anchor:'y' + n,
    range:[xv[0], xv[xv.length - 1]], tickmode:'array', tickvals:xv, ticktext:p.xt,
    title:{text:X_TITLE, font:TITLEFONT, standoff:2}
  });
  layout['yaxis' + n] = Object.assign({}, common, {
    domain:[py(p.box[3]), py(p.box[2])], anchor:'x' + n,
    range:[yv[0], yv[yv.length - 1]], tickmode:'array', tickvals:yv, ticktext:p.yt,
    title:{text:Y_TITLE, font:TITLEFONT, standoff:3}
  });
  const [l, r, t, b] = p.leg;
  layout.shapes.push({type:'rect', xref:'paper', yref:'paper', x0:px(l), x1:px(r), y0:py(b), y1:py(t),
    line:{color:'#000', width:1}, fillcolor:'#fff', layer:'above'});
  SERIES.forEach((lab, k) => {
    const yy = t + (b - t) * (0.18 + 0.32 * k);
    const mx = l + (r - l) * 0.32;
    const s = STYLE[k].size * 0.75;
    layout.shapes.push({type:'circle', xref:'paper', yref:'paper', xsizemode:'pixel', ysizemode:'pixel',
      xanchor:px(mx), yanchor:py(yy), x0:-s/2, x1:s/2, y0:-s/2, y1:s/2,
      fillcolor:STYLE[k].color, line:{width:0}, layer:'above'});
    layout.annotations.push({xref:'paper', yref:'paper', x:px(l + (r - l) * 0.74), y:py(yy), text:lab,
      showarrow:false, xanchor:'center', yanchor:'middle', font:{family:'Liberation Sans, Arial, sans-serif', size:8, color:'#000', weight:700}});
  });
  layout.annotations.push({xref:'paper', yref:'paper', x:px(p.cap[0]), y:py(p.cap[1]), text:CAPTIONS[i],
    showarrow:false, xanchor:'center', yanchor:'middle', font:{family:'Liberation Serif, Times New Roman, serif', size:21, color:'#000'}});
});

Plotly.newPlot('chart', traces, layout, {staticPlot:true, displayModeBar:false});
</script></body></html>
